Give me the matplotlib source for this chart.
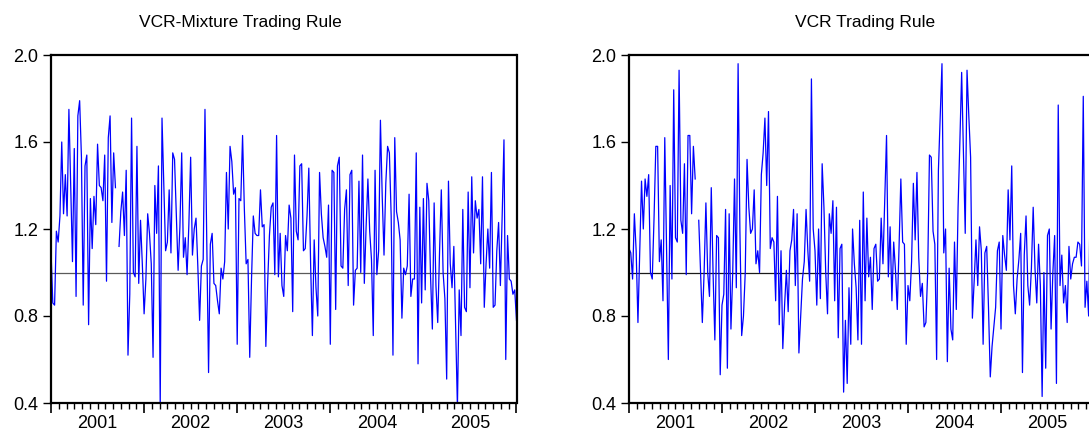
import numpy as np
import matplotlib
matplotlib.use("Agg")
import matplotlib.pyplot as plt
from matplotlib.ticker import MultipleLocator, FixedLocator

plt.rcParams['font.family'] = ['Liberation Sans', 'DejaVu Sans']

nan = np.nan
# VCR-Mixture trading rule (weekly observations)
mixture = [
    1.10, 0.86, 0.85, 1.19, 1.14, 1.26, 1.60, 1.27, 1.45, 1.26,
    1.75, 1.40, 1.05, 1.57, 0.89, 1.72, 1.79, 1.53, 0.85, 1.49,
    1.54, 0.76, 1.34, 1.11, 1.35, 1.22, 1.59, 1.40, 1.39, 1.33,
    1.54, 0.96, 1.62, 1.72, 1.23, 1.55, 1.39, nan, 1.12, 1.28,
    1.37, 1.17, 1.47, 0.62, 0.90, 1.71, 1.00, 0.98, 1.58, 0.95,
    1.24, 1.04, 0.81, 0.97, 1.27, 1.18, 1.04, 0.61, 1.40, 1.18,
    1.49, 0.38, 1.71, 1.40, 1.10, 1.14, 1.38,
    1.09, 1.55, 1.52, 1.26, 1.01, 1.21, 1.55, 1.07, 1.16, 0.99,
    1.22, 1.53, 1.08, 1.20, 1.25, 1.03, 0.78, 1.03, 1.06, 1.75,
    1.15, 0.54, 1.13, 1.18, 0.95, 0.94, 0.87, 0.81, 1.02, 0.97,
    1.05, 1.46, 1.20, 1.58, 1.51, 1.36, 1.39, 0.67, 1.34, 1.33,
    1.63, 1.29, 1.04, 1.06, 0.61, 0.97, 1.26, 1.18, 1.17, 1.17,
    1.38, 1.21, 1.22, 0.66, 0.95, 1.17, 1.30, 1.32, 0.99, 1.63,
    0.98, 1.18, 0.94, 0.89, 1.17,
    1.10, 1.31, 1.25, 0.82, 1.54, 1.19, 1.15, 1.49, 1.50, 1.10,
    1.11, 1.26, 1.48, 1.04, 0.71, 1.15, 0.93, 0.80, 1.46, 1.27,
    1.16, 1.12, 1.07, 1.31, 0.67, 1.47, 1.46, 0.83, 1.49, 1.53,
    1.03, 1.02, 1.29, 1.38, 0.94, 1.45, 1.47, 0.85, 1.01, 1.02,
    1.42, 1.00, 1.54, 0.95, 1.21, 1.43, 1.19, 1.06, 0.71, 1.47,
    0.99, 1.10, 1.70, 1.35, 1.08, 1.41, 1.58, 1.55, 1.26, 0.62,
    1.62, 1.28, 1.23, 1.15, 0.79, 1.02,
    0.99, 1.03, 1.36, 0.89, 0.97, 0.97, 1.55, 0.58, 1.30, 0.86,
    1.34, 0.92, 1.41, 1.33, 0.98, 0.74, 1.32, 0.94, 0.77, 1.09,
    1.38, 1.00, 0.88, 0.51, 1.42, 1.04, 0.93, 1.12, 0.75, 0.38,
    0.92, 0.71, 1.29, 0.84, 0.82, 1.37, 0.93, 1.44, 1.09, 1.33,
    1.25, 1.29, 1.04, 1.44, 0.84, 1.04, 1.20, 1.02, 1.46, 0.84,
    0.85, 1.10, 1.23, 0.94, 1.26, 1.61, 0.60, 1.17, 0.97, 0.96,
    0.90, 0.92, 0.78,
]

# VCR trading rule (weekly observations)
vcr = [
    1.11, 1.09, 0.97, 1.27, 1.10, 0.77, 1.10, 1.42, 1.20, 1.43,
    1.35, 1.45, 1.00, 0.97, 1.25, 1.58, 1.58, 1.05, 1.15, 0.87,
    1.62, 1.10, 0.60, 1.40, 0.97, 1.84, 1.16, 1.14, 1.93, 1.24,
    1.18, 1.50, 0.99, 1.63, 1.63, 1.27, 1.58, 1.43, nan, 1.24,
    1.00, 0.77, 1.00, 1.32, 1.00, 0.89, 1.39, 1.00, 0.69, 1.17,
    1.16, 0.53, 0.85, 0.90, 1.29, 0.56, 1.27, 0.74, 1.00, 1.43,
    0.93, 1.96, 1.20, 0.71, 0.80, 1.00, 1.52, 1.30, 1.18, 1.20,
    1.38, 1.04, 1.10, 1.00, 1.45, 1.55, 1.71, 1.40, 1.74, 1.11,
    1.16, 1.14, 0.87, 1.35, 0.76, 1.10, 0.65, 0.85, 1.01, 0.82,
    1.10, 1.15, 1.29, 0.94, 1.27, 0.63, 0.80, 0.97, 1.05, 1.29,
    1.10, 0.96, 1.89, 1.20, 1.10, 0.85, 1.20, 0.88, 1.50, 1.30,
    1.00, 0.81, 1.27, 1.18, 1.33, 0.87, 1.30, 0.70,
    1.11, 1.13, 0.45, 0.78, 0.49, 0.93, 0.67, 1.20, 1.04, 0.93,
    0.69, 1.24, 0.67, 1.37, 0.87, 1.25, 0.98, 1.07, 0.83, 1.11,
    1.13, 0.96, 0.97, 1.25, 1.04, 1.33, 1.63, 0.98, 1.21, 0.87,
    1.14, 1.01, 0.83, 1.12, 1.43, 1.14, 1.13, 0.67, 0.94, 0.87,
    1.05, 1.41, 1.15, 1.46, 1.07, 0.89, 0.95, 0.75, 0.77, 1.00,
    1.54, 1.53, 1.19, 1.13, 0.60, 1.47, 1.72, 1.96, 1.09, 1.20,
    0.59, 1.02, 0.74, 0.69, 1.14, 0.83, 1.30, 1.60, 1.92, 1.55,
    1.18, 1.93, 1.72, 1.53, 0.79, 0.96, 1.15, 0.94, 1.21, 1.10,
    0.67, 1.09, 1.12, 0.84, 0.52, 0.66, 0.75, 0.84, 1.10, 1.14,
    0.74, 1.17, 1.08, 1.01, 1.38, 1.15, 1.49, 0.94, 0.81, 0.97,
    1.06, 1.18, 0.54, 1.08, 1.26, 0.94, 0.85, 1.02, 1.30, 1.02,
    0.86, 1.13, 0.94, 0.43, 1.00, 0.56, 1.17, 1.20, 0.74, 1.00,
    1.17, 0.49, 1.77, 0.94, 1.08, 0.86, 0.94, 0.77, 1.12, 0.97,
    1.04, 1.07, 1.07, 1.14, 1.13, 1.03, 1.81, 0.84, 0.96, 0.80,
    1.445, 0.70,
]

year_labels = ["2001", "2002", "2003", "2004", "2005"]
titles = ["VCR-Mixture Trading Rule", "VCR Trading Rule"]
ytick_vals = [0.4, 0.8, 1.2, 1.6, 2.0]

W, H = 1089, 437
fig = plt.figure(figsize=(W / 100, H / 100), dpi=100)


def make_axes(left_px, right_px, series, title, title_cx, ref_color):
    top_px, bot_px = 55, 403
    ax = fig.add_axes([left_px / W, 1 - bot_px / H,
                       (right_px - left_px) / W, (bot_px - top_px) / H])
    n = len(series)
    x = 2001.0 + np.arange(n) * (5.0 / 260.0)
    ax.plot(x, series, color=(0, 0, 1), lw=0.9)
    ax.axhline(1.0, color=ref_color, lw=0.9, zorder=1)
    ax.set_xlim(2001.0, 2006.0)
    ax.set_ylim(0.4, 2.0)
    for s in ax.spines.values():
        s.set_linewidth(1.6)
        s.set_color('black')
    ax.set_yticks(ytick_vals)
    ax.set_yticklabels([f"{v:.1f}" for v in ytick_vals], fontsize=13)
    ax.tick_params(axis='y', direction='out', length=6, width=1, pad=3)
    ax.xaxis.set_major_locator(FixedLocator([2001, 2002, 2003, 2004, 2005, 2006]))
    ax.xaxis.set_minor_locator(MultipleLocator(1 / 12))
    ax.set_xticklabels([])
    ax.tick_params(axis='x', which='major', direction='out', length=7, width=1.2)
    ax.tick_params(axis='x', which='minor', direction='out', length=4, width=1)
    for i, lab in enumerate(year_labels):
        ax.text(2001.5 + i, -0.035, lab, transform=ax.get_xaxis_transform(),
                ha='center', va='top', fontsize=13)
    fig.text(title_cx / W, 1 - 22 / H, title, ha='center', va='center', fontsize=12.5)
    return ax


make_axes(51, 516.5, mixture, titles[0], 240, '#5a5a5a')
make_axes(629, 1094, vcr, titles[1], 865, '#1a1a1a')

fig.savefig("out.png", dpi=100)
